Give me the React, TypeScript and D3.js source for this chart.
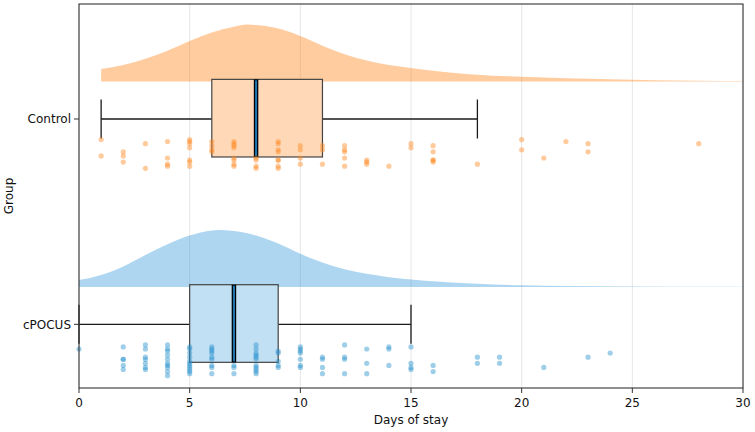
import * as d3 from "d3";

const groups = ["Control", "cPOCUS"];
const baseColors = ["#ff7f0e", "#3498db"];
const boxFills = ["#ffd9b7", "#c2e0f4"];

// box statistics
const q1 = [6, 5];
const medians = [8, 7];
const q3 = [11, 9];
const whiskerLow = [1, 0];
const whiskerHigh = [18, 15];

// half-violin (cloud) profiles, relative density
const controlCloudDays = [1, 2, 3, 4, 5, 6, 7, 7.6, 8, 9, 10, 11, 12, 13, 14, 15, 16, 17, 18, 20, 22, 24, 26, 28, 30];
const controlCloudDensity = [
  0.22, 0.29, 0.4, 0.54, 0.71, 0.86, 0.96, 1.0, 0.99, 0.93, 0.8, 0.63, 0.48, 0.37, 0.29,
  0.24, 0.19, 0.15, 0.12, 0.085, 0.06, 0.04, 0.026, 0.017, 0.01,
];
const pocusCloudDays = [0, 1, 2, 3, 4, 5, 6, 6.3, 7, 8, 9, 10, 11, 12, 13, 14, 15, 16, 17, 18, 20, 22, 25, 30];
const pocusCloudDensity = [
  0.12, 0.21, 0.36, 0.56, 0.75, 0.9, 0.99, 1.0, 0.98, 0.9, 0.76, 0.58, 0.43, 0.31, 0.23,
  0.17, 0.13, 0.1, 0.075, 0.055, 0.03, 0.018, 0.009, 0.004,
];

// strip points: day value and vertical jitter (in group units, below the group line)
const controlDays = [
  1, 1, 2, 2, 2, 3, 3, 4, 4, 4, 4, 5, 5, 5, 5, 5, 5, 5, 6, 6, 6, 6,
  7, 7, 7, 7, 7, 7, 7, 7, 8, 8, 8, 8, 9, 9, 9, 9, 9, 9, 9, 9,
  10, 10, 10, 10, 11, 11, 11, 12, 12, 12, 12, 12, 13, 13, 13, 14, 15, 15,
  16, 16, 16, 16, 16, 18, 20, 20, 21, 22, 23, 23, 28,
];
const controlJitter = [
  0.1, 0.18, 0.16, 0.18, 0.21, 0.12, 0.24, 0.11, 0.19, 0.22, 0.23, 0.1, 0.11, 0.12, 0.14, 0.2, 0.21, 0.23, 0.11, 0.13, 0.15, 0.16,
  0.11, 0.12, 0.13, 0.14, 0.19, 0.2, 0.22, 0.23, 0.19, 0.2, 0.23, 0.24, 0.11, 0.12, 0.15, 0.16, 0.2, 0.2, 0.23, 0.24,
  0.13, 0.15, 0.19, 0.22, 0.13, 0.15, 0.22, 0.13, 0.15, 0.16, 0.19, 0.23, 0.2, 0.21, 0.22, 0.23, 0.12, 0.14,
  0.13, 0.16, 0.2, 0.2, 0.21, 0.22, 0.1, 0.15, 0.19, 0.11, 0.12, 0.16, 0.12,
];

const pocusDays = [
  0, 2, 2, 2, 2, 2, 3, 3, 3, 3, 3, 3, 3,
  4, 4, 4, 4, 4, 4, 4, 4, 4, 4,
  5, 5, 5, 5, 5, 5, 5, 5, 5, 5, 5,
  6, 6, 6, 6, 6, 6, 6, 6, 6, 7, 7, 7,
  8, 8, 8, 8, 8, 8, 8, 8, 8, 8, 8,
  9, 9, 9, 9, 9, 10, 10, 10, 10, 10, 10, 10,
  11, 11, 11, 11, 12, 12, 12, 12, 13, 13, 13, 14, 14, 14,
  15, 15, 15, 15, 16, 16, 18, 18, 19, 19, 21, 23, 24,
];
const pocusJitter = [
  0.12, 0.11, 0.17, 0.17, 0.2, 0.22, 0.1, 0.12, 0.16, 0.17, 0.19, 0.21, 0.22,
  0.1, 0.12, 0.13, 0.15, 0.17, 0.19, 0.2, 0.21, 0.23, 0.25,
  0.11, 0.12, 0.14, 0.16, 0.18, 0.19, 0.2, 0.21, 0.22, 0.23, 0.24,
  0.11, 0.12, 0.13, 0.14, 0.16, 0.17, 0.2, 0.21, 0.24, 0.2, 0.21, 0.24,
  0.1, 0.12, 0.14, 0.15, 0.16, 0.17, 0.2, 0.21, 0.22, 0.23, 0.24,
  0.13, 0.14, 0.18, 0.2, 0.21, 0.11, 0.12, 0.13, 0.14, 0.17, 0.2, 0.21,
  0.16, 0.17, 0.21, 0.24, 0.1, 0.16, 0.17, 0.24, 0.12, 0.19, 0.24, 0.11, 0.12, 0.2,
  0.11, 0.19, 0.21, 0.22, 0.2, 0.23, 0.16, 0.19, 0.16, 0.19, 0.21, 0.16, 0.14,
];

const xTicks = [0, 5, 10, 15, 20, 25, 30];

const W = 755;
const H = 432;
const margin = { top: 4, right: 12, bottom: 44, left: 79 };

export default function App() {
  const x = d3
    .scaleLinear()
    .domain([0, 30])
    .range([margin.left, W - margin.right]);
  const y = d3
    .scaleLinear()
    .domain([-0.56, 1.31])
    .range([margin.top, H - margin.bottom]);

  const data = [
    { days: controlDays, jitter: controlJitter, cloudX: controlCloudDays, cloudY: controlCloudDensity },
    { days: pocusDays, jitter: pocusJitter, cloudX: pocusCloudDays, cloudY: pocusCloudDensity },
  ];

  const cloudBase = -0.182;
  const cloudHeight = 0.278;

  const clouds = data.map((d, i) => {
    const pts = d.cloudX.map((v, j) => [v, d.cloudY[j]] as [number, number]);
    const area = d3
      .area<[number, number]>()
      .x((p) => x(p[0]))
      .y0(y(i + cloudBase))
      .y1((p) => y(i + cloudBase - p[1] * cloudHeight))
      .curve(d3.curveMonotoneX);
    return area(pts) as string;
  });

  const boxTop = -0.193;
  const boxBot = 0.185;
  const capHalf = 0.095;

  return (
    <svg
      width={W}
      height={H}
      style={{ position: "absolute", left: 0, top: 0, fontFamily: "DejaVu Sans" }}
    >
      <rect width={W} height={H} fill="#fff" />
      {/* grid */}
      {xTicks.map((t) => (
        <line
          key={"g" + t}
          x1={x(t)}
          x2={x(t)}
          y1={margin.top}
          y2={H - margin.bottom}
          stroke="#e6e6e6"
          strokeWidth={1}
        />
      ))}
      {/* clouds */}
      {clouds.map((p, i) => (
        <path key={"c" + i} d={p} fill={baseColors[i]} fillOpacity={0.4} />
      ))}
      {/* boxes */}
      {groups.map((g, i) => (
        <g key={"b" + g}>
          <line
            x1={x(whiskerLow[i])}
            x2={x(q1[i])}
            y1={y(i)}
            y2={y(i)}
            stroke="#1a1a1a"
            strokeWidth={1.3}
          />
          <line
            x1={x(q3[i])}
            x2={x(whiskerHigh[i])}
            y1={y(i)}
            y2={y(i)}
            stroke="#1a1a1a"
            strokeWidth={1.3}
          />
          <line
            x1={x(whiskerLow[i])}
            x2={x(whiskerLow[i])}
            y1={y(i - capHalf)}
            y2={y(i + capHalf)}
            stroke="#1a1a1a"
            strokeWidth={1.3}
          />
          <line
            x1={x(whiskerHigh[i])}
            x2={x(whiskerHigh[i])}
            y1={y(i - capHalf)}
            y2={y(i + capHalf)}
            stroke="#1a1a1a"
            strokeWidth={1.3}
          />
          <rect
            x={x(q1[i])}
            y={y(i + boxTop)}
            width={x(q3[i]) - x(q1[i])}
            height={y(i + boxBot) - y(i + boxTop)}
            fill={boxFills[i]}
            stroke="#444"
            strokeWidth={1.2}
          />
          <line
            x1={x(medians[i])}
            x2={x(medians[i])}
            y1={y(i + boxTop)}
            y2={y(i + boxBot)}
            stroke="#000"
            strokeWidth={4.5}
          />
          <line
            x1={x(medians[i])}
            x2={x(medians[i])}
            y1={y(i + boxTop) + 1}
            y2={y(i + boxBot) - 1}
            stroke="#1f77b4"
            strokeWidth={2}
          />
        </g>
      ))}
      {/* strip points */}
      {data.map((d, i) =>
        d.days.map((v, j) => (
          <circle
            key={"p" + i + "-" + j}
            cx={x(v)}
            cy={y(i + d.jitter[j])}
            r={2.6}
            fill={i === 0 ? "#ff8a24" : "#2a93cf"}
            fillOpacity={0.45}
          />
        ))
      )}
      {/* spines */}
      <rect
        x={margin.left}
        y={margin.top}
        width={W - margin.right - margin.left}
        height={H - margin.bottom - margin.top}
        fill="none"
        stroke="#333"
        strokeWidth={1.1}
      />
      {/* x axis */}
      {xTicks.map((t) => (
        <g key={"t" + t}>
          <line
            x1={x(t)}
            x2={x(t)}
            y1={H - margin.bottom}
            y2={H - margin.bottom + 5}
            stroke="#333"
          />
          <text
            x={x(t)}
            y={H - margin.bottom + 19}
            textAnchor="middle"
            fontSize={12}
            fill="#111"
          >
            {t}
          </text>
        </g>
      ))}
      <text x={(margin.left + W - margin.right) / 2} y={H - 8} textAnchor="middle" fontSize={12} fill="#111">
        Days of stay
      </text>
      {/* y axis */}
      {groups.map((g, i) => (
        <g key={"y" + g}>
          <line x1={margin.left - 5} x2={margin.left} y1={y(i)} y2={y(i)} stroke="#333" />
          <text x={margin.left - 8} y={y(i)} dy="0.35em" textAnchor="end" fontSize={12} fill="#111">
            {g}
          </text>
        </g>
      ))}
      <text
        transform={`translate(13,${(margin.top + H - margin.bottom) / 2}) rotate(-90)`}
        textAnchor="middle"
        fontSize={12}
        fill="#111"
      >
        Group
      </text>
    </svg>
  );
}
